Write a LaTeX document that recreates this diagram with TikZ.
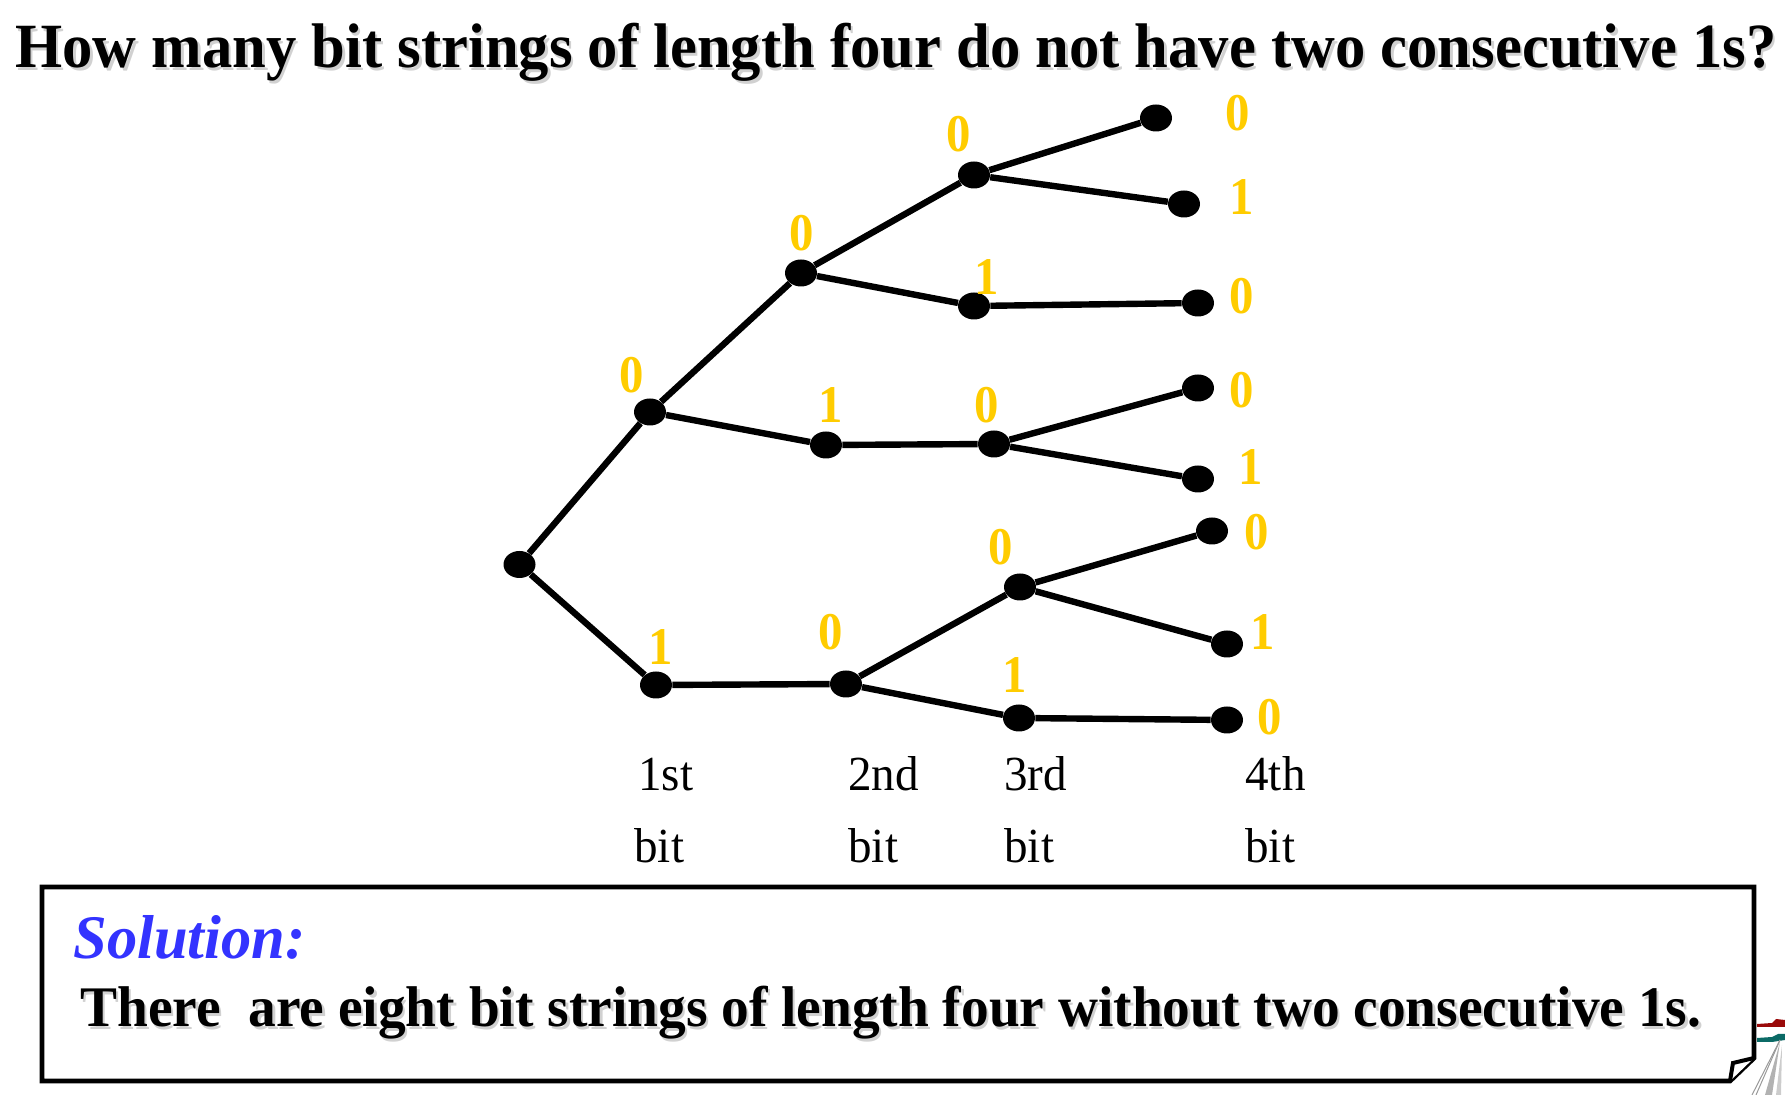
\documentclass[tikz,border=0pt]{standalone}
\usepackage{fontspec}
\setmainfont{Liberation Serif}
\usepackage{graphicx}
\usetikzlibrary{shapes.geometric}
\definecolor{gold}{HTML}{FFCC00}
\definecolor{solblue}{HTML}{3333FF}
\definecolor{flagred}{HTML}{9A0A0A}
\definecolor{flagteal}{HTML}{0B6A66}
\newcommand\titletext{How many bit strings of length four do not have two consecutive 1s?}
\newcommand\answertext{There\ \ are eight bit strings of length four without two consecutive 1s.}
\newcommand\narrow[1]{\scalebox{0.92}[1]{#1}}
\newcommand\slimpos[1]{\scalebox{0.96}[1]{#1}}
\begin{document}
\begin{tikzpicture}[x=0.5pt,y=-0.5pt,
  dot/.style={ellipse, fill=black, minimum width=16pt, minimum height=13.5pt, inner sep=0pt},
  edge/.style={line width=3.2pt},
  bitlab/.style={text=gold, font=\fontsize{26.5}{26.5}\selectfont\bfseries, inner sep=0pt},
  poslab/.style={font=\fontsize{24.5}{24.5}\selectfont, inner sep=0pt, anchor=base west},
  shadowtext/.style={text=black!18, inner sep=0pt, anchor=base west},
  maintext/.style={inner sep=0pt, anchor=base west},
]
\useasboundingbox (0,0) rectangle (1785,1095);

% title
\node[shadowtext] (titleshadow) at (17.5,70.5) {\resizebox{880.5pt}{\height}{\fontsize{31.5}{33}\selectfont\bfseries\titletext}};
\node[maintext] (title) at (15,68) {\resizebox{880.5pt}{\height}{\fontsize{31.5}{33}\selectfont\bfseries\titletext}};

% tree nodes
\node[dot] (r) at (519.5,564.5) {};
\node[dot] (a) at (650,412) {};
\node[dot] (b) at (656,685) {};
\node[dot] (a0) at (801,273) {};
\node[dot] (a1) at (826,445) {};
\node[dot] (b0) at (846,684) {};
\node[dot] (a00) at (974,175) {};
\node[dot] (a01) at (974,306) {};
\node[dot] (a10) at (994,444) {};
\node[dot] (b00) at (1020,587) {};
\node[dot] (b01) at (1019,718) {};
\node[dot] (l1) at (1156,118) {};
\node[dot] (l2) at (1184,204) {};
\node[dot] (l3) at (1198,303) {};
\node[dot] (l4) at (1198,388) {};
\node[dot] (l5) at (1198,479) {};
\node[dot] (l6) at (1212,531) {};
\node[dot] (l7) at (1227,644) {};
\node[dot] (l8) at (1227,720) {};

% edges
\draw[edge] (r) -- (a);
\draw[edge] (r) -- (b);
\draw[edge] (a) -- (a0);
\draw[edge] (a) -- (a1);
\draw[edge] (b) -- (b0);
\draw[edge] (a0) -- (a00);
\draw[edge] (a0) -- (a01);
\draw[edge] (a1) -- (a10);
\draw[edge] (b0) -- (b00);
\draw[edge] (b0) -- (b01);
\draw[edge] (a00) -- (l1);
\draw[edge] (a00) -- (l2);
\draw[edge] (a01) -- (l3);
\draw[edge] (a10) -- (l4);
\draw[edge] (a10) -- (l5);
\draw[edge] (b00) -- (l6);
\draw[edge] (b00) -- (l7);
\draw[edge] (b01) -- (l8);

% bit labels
\node[bitlab] (ta) at (632,375) {\narrow{0}};
\node[bitlab] (tb) at (661,647) {\narrow{1}};
\node[bitlab] (ta0) at (802,233) {\narrow{0}};
\node[bitlab] (ta1) at (831,405) {\narrow{1}};
\node[bitlab] (tb0) at (831,632) {\narrow{0}};
\node[bitlab] (ta00) at (959,134) {\narrow{0}};
\node[bitlab] (ta01) at (987,277) {\narrow{1}};
\node[bitlab] (ta10) at (987,405) {\narrow{0}};
\node[bitlab] (tb00) at (1001,547) {\narrow{0}};
\node[bitlab] (tb01) at (1015,675) {\narrow{1}};
\node[bitlab] (tl1) at (1238,113) {\narrow{0}};
\node[bitlab] (tl2) at (1242,197) {\narrow{1}};
\node[bitlab] (tl3) at (1242,296) {\narrow{0}};
\node[bitlab] (tl4) at (1242,390) {\narrow{0}};
\node[bitlab] (tl5) at (1251,467) {\narrow{1}};
\node[bitlab] (tl6) at (1257,532) {\narrow{0}};
\node[bitlab] (tl7) at (1263,632) {\narrow{1}};
\node[bitlab] (tl8) at (1270,717) {\narrow{0}};

% position labels
\node[poslab] (p1) at (638,791) {\slimpos{1st}};
\node[poslab] (p1b) at (634,863) {\slimpos{bit}};
\node[poslab] (p2) at (848,791) {\slimpos{2nd}};
\node[poslab] (p2b) at (848,863) {\slimpos{bit}};
\node[poslab] (p3) at (1004,791) {\slimpos{3rd}};
\node[poslab] (p3b) at (1004,863) {\slimpos{bit}};
\node[poslab] (p4) at (1245,791) {\slimpos{4th}};
\node[poslab] (p4b) at (1245,863) {\slimpos{bit}};

% solution box with folded corner
\draw[line width=2.4pt, line join=miter] (42,887) -- (1754,887) -- (1754,1058) -- (1730,1081) -- (42,1081) -- cycle;
\draw[line width=2pt, fill=white, line join=miter] (1754,1058) -- (1733,1063) -- (1730,1081);
\node[maintext, text=solblue] (sol) at (73,959) {\resizebox{116pt}{\height}{\fontsize{31}{33}\selectfont\bfseries\itshape Solution:}};
\node[shadowtext] (anshadow) at (82.5,1029.5) {\resizebox{810.5pt}{\height}{\fontsize{28.7}{30}\selectfont\bfseries\answertext}};
\node[maintext] (ans) at (80,1027) {\resizebox{810.5pt}{\height}{\fontsize{28.7}{30}\selectfont\bfseries\answertext}};

% clip-art fragment at the right edge
\fill[flagred] (1757,1024) -- (1772,1023) -- (1776,1019) -- (1785,1020) -- (1785,1027) -- (1772,1027) -- (1757,1027) -- cycle;
\fill[flagteal] (1757,1038) -- (1772,1037) -- (1778,1034) -- (1785,1034) -- (1785,1040) -- (1772,1042) -- (1757,1042) -- cycle;
\draw[black!40, line width=0.5pt] (1780,1040) -- (1752,1095);
\draw[black!40, line width=0.5pt] (1780,1040) -- (1756,1095);
\fill[black!30] (1780,1042) -- (1765,1095) -- (1772,1095) -- cycle;
\fill[black!20] (1782,1045) -- (1776,1095) -- (1781,1095) -- cycle;
\end{tikzpicture}
\end{document}
